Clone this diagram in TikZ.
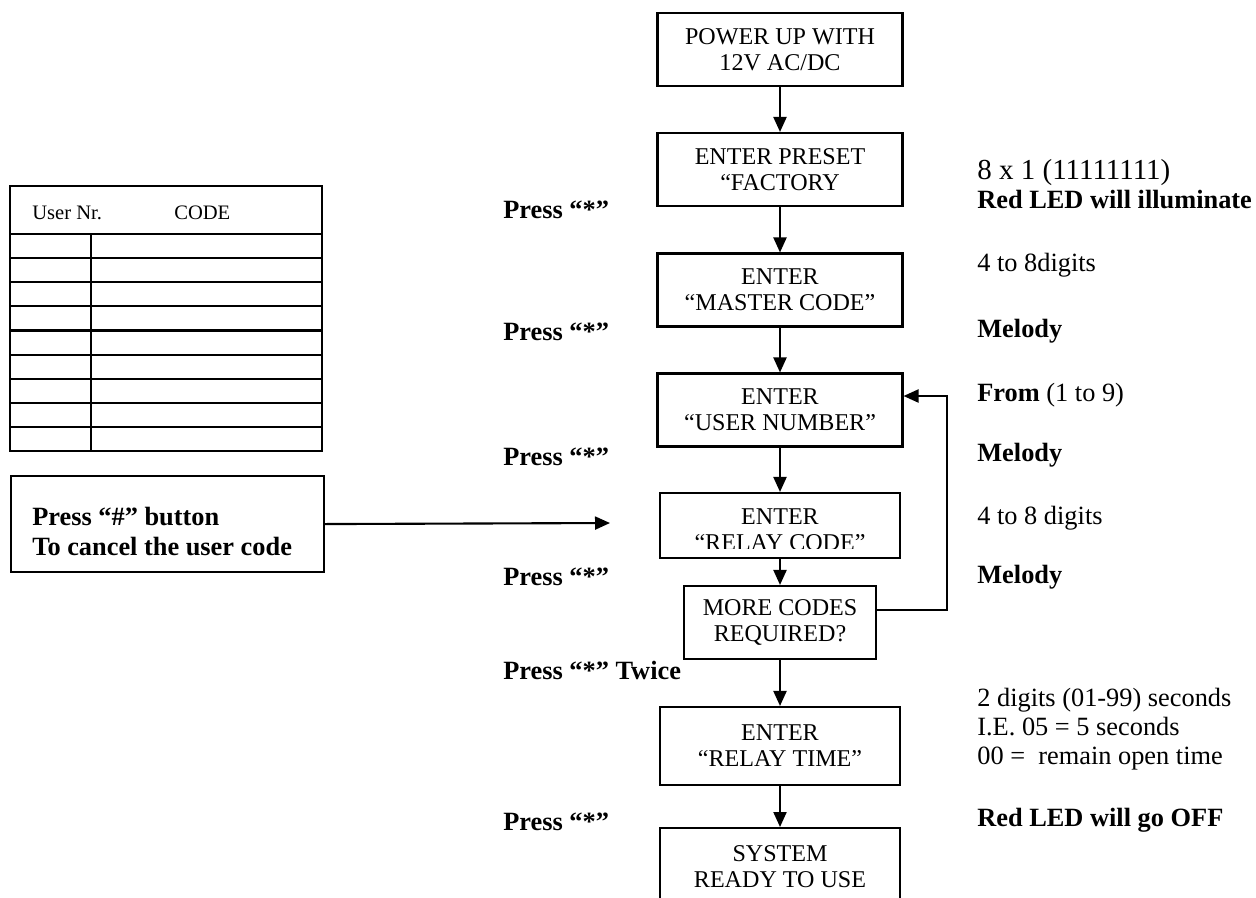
\documentclass[tikz,border=0pt]{standalone}
\usepackage{fontspec}
\setmainfont{Liberation Serif}
\usetikzlibrary{arrows.meta}

\begin{document}
\begin{tikzpicture}[x=0.02cm,y=-0.02cm,
        box/.style={draw, line width=1.2pt, align=center, inner sep=0pt,
            minimum width=4.9cm, minimum height=1.46cm,
            font=\fontsize{13.7}{14.8}\selectfont},
        arr/.style={line width=1.2pt, -{Triangle[length=0.3cm,width=0.26cm]}},
        press/.style={anchor=west, inner sep=0pt, font=\fontsize{15}{17}\bfseries\selectfont},
        note/.style={anchor=west, inner sep=0pt, font=\fontsize{15}{17}\selectfont}]
        \useasboundingbox (0,0) rectangle (1256,897);

        % user code table
        \draw[line width=1.2pt] (10,186) rectangle (322,451);
        \draw[line width=1.2pt] (10,234) -- (322,234);
        \foreach \k in {1,...,8}
            \draw[line width=1.2pt] (10,{234+24.11*\k}) -- (322,{234+24.11*\k});
        \draw[line width=1.2pt] (91,234) -- (91,451);
        \node[anchor=west, inner sep=0pt, font=\fontsize{11.7}{13}\selectfont] (usernr) at (32,213) {User Nr.};
        \node[anchor=west, inner sep=0pt, font=\fontsize{11.7}{13}\selectfont] (code) at (174,213) {CODE};

        % cancel box
        \node[draw, line width=1.2pt, anchor=north west, inner sep=0pt,
            minimum width=6.26cm, minimum height=1.92cm] (cancel) at (10,475) {};
        \node[press, align=left, font=\fontsize{15}{17.6}\bfseries\selectfont] (canceltext) at (32,531.5)
            {Press “\#” button\\To cancel the user code};
        \coordinate (rcin) at (610,523);
        \draw[arr] (cancel.east) -- (rcin);

        % flow boxes
        \node[box] (power) at (780,49.5) {POWER UP WITH\\12V AC/DC};
        \node[box] (preset) at (780,169.5) {ENTER PRESET\\“FACTORY};
        \node[box] (master) at (780,290) {ENTER\\“MASTER CODE”};
        \node[box] (user) at (780,410) {ENTER\\“USER NUMBER”};
        \node[box, minimum width=4.8cm, minimum height=1.3cm] (rcode) at (780,525.5) {};
        % text of the relay code box is cut by its frame
        \begin{scope}
            \clip (rcode.north west) rectangle ([yshift=0.22cm]rcode.south east);
            \node[align=center, inner sep=0pt, font=\fontsize{13.7}{14.8}\selectfont] (rcodetext) at (780,530)
                {ENTER\\“RELAY CODE”};
        \end{scope}
        \node[box, minimum width=3.84cm] (more) at (780,622.5) {MORE CODES\\REQUIRED?};
        \node[box, minimum width=4.8cm, minimum height=1.56cm] (rtime) at (780,746) {ENTER\\“RELAY TIME”};
        \node[box, minimum width=4.8cm, minimum height=1.56cm, anchor=north] (ready) at (780,827) {SYSTEM\\READY TO USE};

        % arrows down the flow
        \draw[arr] (power) -- (preset);
        \draw[arr] (preset) -- (master);
        \draw[arr] (master) -- (user);
        \draw[arr] (user) -- (rcode);
        \draw[arr] (rcode) -- (more);
        \draw[arr] (more) -- (rtime);
        \draw[arr] (rtime) -- (ready);

        % loop back for more codes
        \coordinate (loopb) at (947,610);
        \coordinate (loopt) at (947,396);
        \draw[arr] (more.east |- loopb) -- (loopb) -- (loopt) -- (user.east |- loopt);

        % key presses
        \node[press] (press1) at (503,210) {Press “*”};
        \node[press] (press2) at (503,332) {Press “*”};
        \node[press] (press3) at (503,457) {Press “*”};
        \node[press] (press4) at (503,577) {Press “*”};
        \node[press] (press5) at (503,670) {Press “*” Twice};
        \node[press] (press6) at (503,822) {Press “*”};

        % notes on the right
        \node[note, font=\fontsize{16.5}{18}\selectfont] (presetnote) at (977,173) {8 x 1 (11111111)};
        \node[press] (presetled) at (977,200) {Red LED will illuminate};
        \node[note] (masternote) at (977,265) {4 to 8digits};
        \node[press] (mastermel) at (977,331) {Melody};
        \node[note] (usernote) at (977,395) {\textbf{From} (1 to 9)};
        \node[press] (usermel) at (977,455) {Melody};
        \node[note] (rcodenote) at (977,518) {4 to 8 digits};
        \node[press] (rcodemel) at (977,577) {Melody};
        \node[note, align=left, font=\fontsize{15}{16.5}\selectfont] (rtimenote) at (977,729)
            {2 digits (01-99) seconds\\I.E. 05 = 5 seconds\\00 = \ remain open time};
        \node[press] (readyled) at (977,820) {Red LED will go OFF};
    \end{tikzpicture}
\end{document}
